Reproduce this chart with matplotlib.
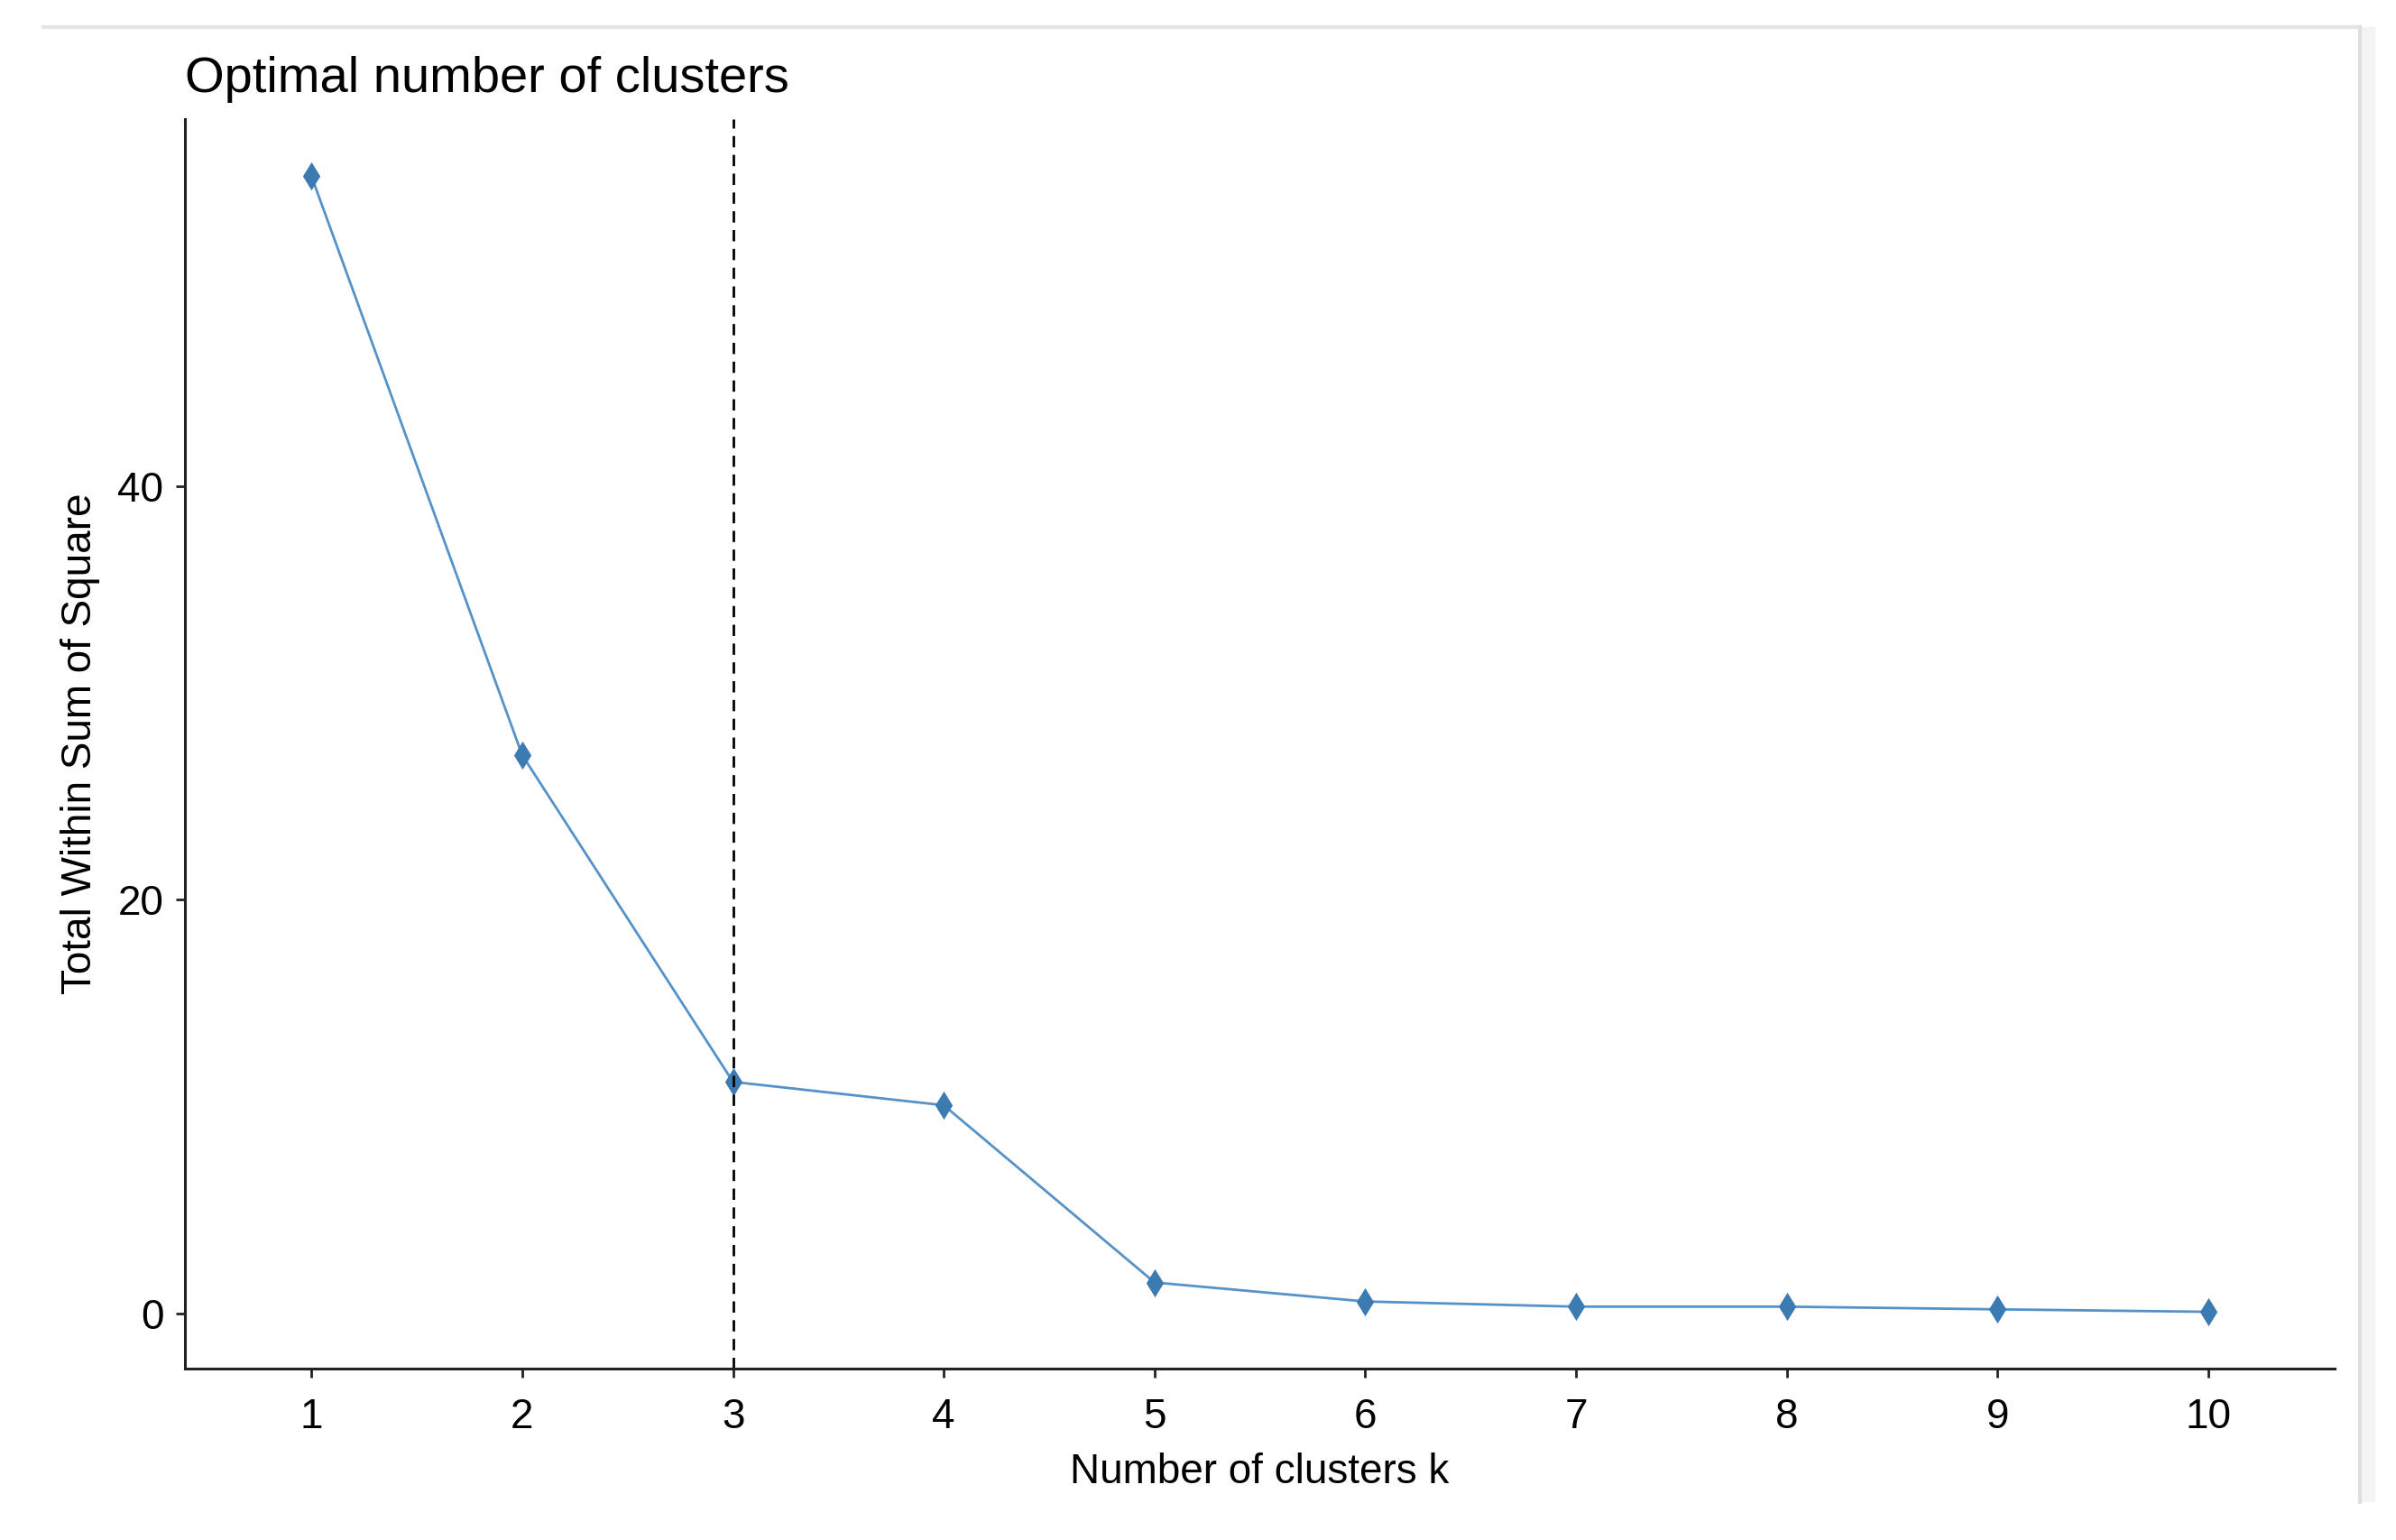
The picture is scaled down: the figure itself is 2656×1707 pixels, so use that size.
import matplotlib
matplotlib.use("Agg")
from matplotlib import pyplot as plt
from matplotlib.lines import Line2D
from matplotlib.patches import Rectangle

# elbow data
k = [1, 2, 3, 4, 5, 6, 7, 8, 9, 10]
wss = [55.0, 27.0, 11.2, 10.07, 1.5, 0.58, 0.33, 0.33, 0.2, 0.08]
k_opt = 3
ytick_vals = [0, 20, 40]

plt.rcParams['font.family'] = ['Liberation Sans', 'DejaVu Sans']

fig = plt.figure(figsize=(13.28, 8.535), dpi=200)
ax = fig.add_axes([0.0772, 0.1113, 0.8973, 0.8112])

ax.plot(k, wss, color='#5592C8', lw=1.0, marker='d', ms=6.5, mec='#3C7AB2', mfc='#3C7AB2')
ax.axvline(k_opt, color='black', lw=1.0, linestyle=(0, (4.5, 3)))

ax.set_xlim(0.4, 10.6)
ax.margins(y=0.05)
ax.set_xticks(k)
ax.set_yticks(ytick_vals)

for s in ['top', 'right']:
    ax.spines[s].set_visible(False)
for s in ['left', 'bottom']:
    ax.spines[s].set_linewidth(1.1)
    ax.spines[s].set_color('#222222')

ax.tick_params(axis='both', direction='out', length=3.5, width=1.0, color='#222222', labelsize=16.5)
ax.tick_params(axis='x', pad=8)
ax.tick_params(axis='y', pad=5)

ax.set_title('Optimal number of clusters', loc='left', fontsize=20.2, pad=11)
ax.set_xlabel('Number of clusters k', fontsize=16.5, labelpad=6)
ax.set_ylabel('Total Within Sum of Square', fontsize=16.5, labelpad=7)

# screenshot frame
fig.add_artist(Line2D([0.018, 0.985], [0.9824, 0.9824], color='#e3e4e6', lw=1.5))
fig.add_artist(Rectangle((0.9857, 0.0246), 0.0056, 0.9578, color='#f3f4f6', lw=0))
fig.add_artist(Line2D([0.9849, 0.9849], [0.0246, 0.9824], color='#dedfe1', lw=1.5))

fig.savefig('out.png', dpi=200)
